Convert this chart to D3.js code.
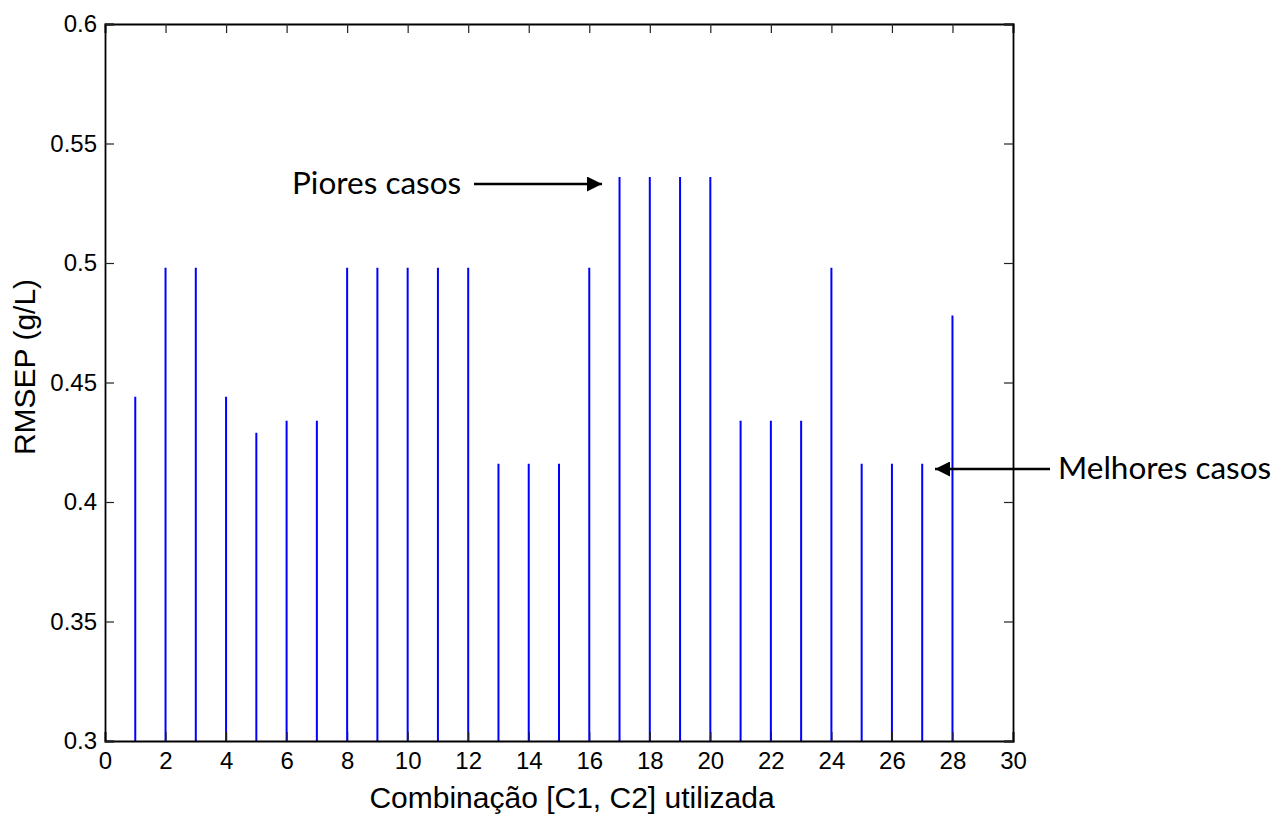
<!DOCTYPE html>
<html>
<head>
<meta charset="utf-8">
<script src="https://cdn.jsdelivr.net/npm/d3@7"></script>
<style>
  html, body { margin: 0; padding: 0; background: #fff; }
  svg { display: block; }
</style>
</head>
<body>
<svg id="chart" width="1278" height="816"></svg>
<script>
// Combination index [C1, C2] and its prediction error (RMSEP, g/L)
const combinations = d3.range(1, 29);
const rmsep = [
  0.444, 0.498, 0.498, 0.444, 0.429, 0.434, 0.434,
  0.498, 0.498, 0.498, 0.498, 0.498,
  0.416, 0.416, 0.416, 0.498,
  0.536, 0.536, 0.536, 0.536,
  0.434, 0.434, 0.434, 0.498,
  0.416, 0.416, 0.416, 0.478
];
const xTicks = d3.range(0, 31, 2);
const yTicks = [0.3, 0.35, 0.4, 0.45, 0.5, 0.55, 0.6];

const svg = d3.select("#chart");
const plotLeft = 105, plotRight = 1013, plotTop = 24, plotBottom = 741;

const x = d3.scaleLinear().domain([0, 30]).range([plotLeft, plotRight]);
const y = d3.scaleLinear().domain([0.3, 0.6]).range([plotBottom, plotTop]);

const tickLen = 9;
const axisFont = "'Liberation Sans', Arial, sans-serif";

// stems
svg.append("g")
  .selectAll("line")
  .data(combinations)
  .join("line")
  .attr("x1", d => x(d)).attr("x2", d => x(d))
  .attr("y1", y(0.3))
  .attr("y2", (d, i) => y(rmsep[i]))
  .attr("stroke", "#0000ff")
  .attr("stroke-width", 2);

// bottom and top axes (ticks pointing inward)
const xBottom = d3.axisBottom(x).tickValues(xTicks).tickSize(-tickLen).tickPadding(11).tickFormat(d3.format("d"));
const gxb = svg.append("g").attr("transform", `translate(0,${plotBottom})`).call(xBottom);
const xTop = d3.axisTop(x).tickValues(xTicks).tickSize(-tickLen).tickFormat("");
const gxt = svg.append("g").attr("transform", `translate(0,${plotTop})`).call(xTop);

// left and right axes
const yLeft = d3.axisLeft(y).tickValues(yTicks).tickSize(-tickLen).tickPadding(8)
  .tickFormat(d => String(+d.toFixed(2)));
const gyl = svg.append("g").attr("transform", `translate(${plotLeft},0)`).call(yLeft);
const yRight = d3.axisRight(y).tickValues(yTicks).tickSize(-tickLen).tickFormat("");
const gyr = svg.append("g").attr("transform", `translate(${plotRight},0)`).call(yRight);

[gxb, gxt, gyl, gyr].forEach(g => {
  g.select(".domain").attr("stroke", "#000").attr("stroke-width", 1.8);
  g.selectAll(".tick line").attr("stroke", "#222").attr("stroke-width", 1.2);
  g.selectAll(".tick text")
    .attr("font-family", axisFont)
    .attr("font-size", 24)
    .attr("fill", "#000");
});

// axis titles
svg.append("text")
  .attr("x", 572).attr("y", 808)
  .attr("text-anchor", "middle")
  .attr("font-family", axisFont).attr("font-size", 30)
  .text("Combinação [C1, C2] utilizada");

svg.append("text")
  .attr("transform", "translate(35,367) rotate(-90)")
  .attr("text-anchor", "middle")
  .attr("font-family", axisFont).attr("font-size", 30)
  .text("RMSEP (g/L)");

// annotations
const defs = svg.append("defs");
defs.append("marker")
  .attr("id", "head")
  .attr("viewBox", "0 0 10 10")
  .attr("refX", 10).attr("refY", 5)
  .attr("markerWidth", 17).attr("markerHeight", 15)
  .attr("markerUnits", "userSpaceOnUse")
  .attr("orient", "auto")
  .append("path")
  .attr("d", "M0,0 L10,5 L0,10 Z")
  .attr("fill", "#000");

const noteFont = "Lato, 'Open Sans', sans-serif";

svg.append("text")
  .attr("x", 292).attr("y", 194)
  .attr("font-family", noteFont).attr("font-size", 31.5)
  .text("Piores casos");
svg.append("line")
  .attr("x1", 474).attr("y1", 184).attr("x2", 602).attr("y2", 184)
  .attr("stroke", "#000").attr("stroke-width", 2.6)
  .attr("marker-end", "url(#head)");

svg.append("text")
  .attr("x", 1058).attr("y", 479)
  .attr("font-family", noteFont).attr("font-size", 31.5)
  .text("Melhores casos");
svg.append("line")
  .attr("x1", 1050).attr("y1", 469).attr("x2", 935).attr("y2", 469)
  .attr("stroke", "#000").attr("stroke-width", 2.6)
  .attr("marker-end", "url(#head)");
</script>
</body>
</html>
